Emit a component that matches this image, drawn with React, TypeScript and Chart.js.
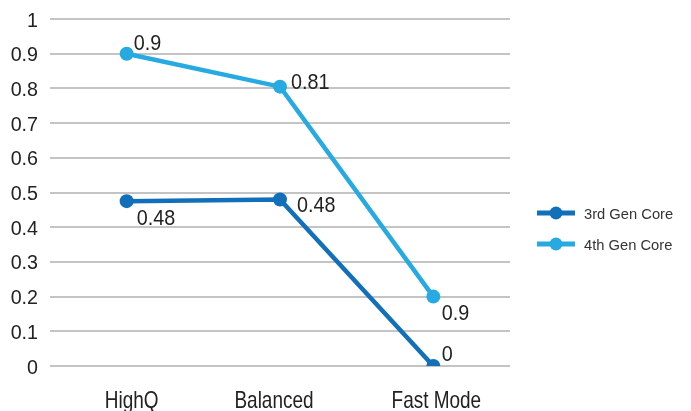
import React, { useEffect, useRef } from "react";
import { Chart, registerables } from "chart.js";

Chart.register(...registerables);

const categories = ["HighQ", "Balanced", "Fast Mode"];
const seriesNames = ["3rd Gen Core", "4th Gen Core"];
const gen3Values = [0.475, 0.48, 0];
const gen4Values = [0.9, 0.805, 0.2];
const gen3Labels = ["0.48", "0.48", "0"];
const gen4Labels = ["0.9", "0.81", "0.9"];
const yTicks = [0, 0.1, 0.2, 0.3, 0.4, 0.5, 0.6, 0.7, 0.8, 0.9, 1];

const COLORS = ["#1270ba", "#27a9e1"];
const FONT = "'Liberation Sans', Arial, sans-serif";
const TEXT = "#222";

// label placement offsets relative to the point (style): [dx, baseline dy]
const labelOffsets = [
  [[10, 23.5], [17, 13], [8.5, -5.5]],
  [[7, -4], [11, 2], [8.5, 23]],
];
// small horizontal nudges of category labels (style)
const categoryNudge = [5, -6, 3];

function drawText(ctx: CanvasRenderingContext2D, text: string, x: number, y: number, size: number, sx: number, align: CanvasTextAlign, color = TEXT) {
  ctx.save();
  ctx.translate(x, y);
  ctx.scale(sx, 1);
  ctx.font = `${size}px ${FONT}`;
  ctx.fillStyle = color;
  ctx.textAlign = align;
  ctx.textBaseline = "alphabetic";
  ctx.fillText(text, 0, 0);
  ctx.restore();
}

const axisTextPlugin = {
  id: "axisText",
  afterDraw(chart: any) {
    const ctx = chart.ctx;
    const ys = chart.scales.y;
    const xs = chart.scales.x;
    yTicks.forEach((v) => {
      const py = ys.getPixelForValue(v);
      drawText(ctx, String(v), 38, py + 7.5, 20.5, 0.96, "right");
    });
    categories.forEach((c, i) => {
      const px = xs.getPixelForValue(i);
      drawText(ctx, c, px + categoryNudge[i], 407.5, 24, 0.79, "center");
    });
  },
};

const dataLabelPlugin = {
  id: "dataLabels",
  afterDatasetsDraw(chart: any) {
    const ctx = chart.ctx;
    const allLabels = [gen3Labels, gen4Labels];
    chart.data.datasets.forEach((ds: any, di: number) => {
      const meta = chart.getDatasetMeta(di);
      meta.data.forEach((pt: any, i: number) => {
        const [dx, dy] = labelOffsets[di][i];
        drawText(ctx, allLabels[di][i], pt.x + dx, pt.y + dy, 21.5, 0.92, "left");
      });
    });
  },
};

const legendPlugin = {
  id: "customLegend",
  afterDraw(chart: any) {
    const ctx = chart.ctx;
    ctx.save();
    const x0 = 537;
    const ys = [213, 244];
    seriesNames.forEach((name, i) => {
      const y = ys[i];
      ctx.strokeStyle = COLORS[i];
      ctx.lineWidth = 5;
      ctx.beginPath();
      ctx.moveTo(x0, y);
      ctx.lineTo(x0 + 38, y);
      ctx.stroke();
      ctx.fillStyle = COLORS[i];
      ctx.beginPath();
      ctx.arc(x0 + 19, y, 6.5, 0, Math.PI * 2);
      ctx.fill();
      drawText(ctx, name, x0 + 47, y + 5.5, 15.5, 0.95, "left", "#333");
    });
    ctx.restore();
  },
};

export default function App() {
  const ref = useRef<HTMLCanvasElement>(null);
  useEffect(() => {
    if (!ref.current) return;
    const mk = (i: number, data: number[]) => ({
      label: seriesNames[i],
      data,
      borderColor: COLORS[i],
      backgroundColor: COLORS[i],
      borderWidth: 4.5,
      pointRadius: 7,
      pointHoverRadius: 7,
      pointBorderWidth: 0,
      tension: 0,
    });
    const chart = new Chart(ref.current, {
      type: "line",
      data: {
        labels: categories,
        datasets: [mk(0, gen3Values), mk(1, gen4Values)],
      },
      options: {
        animation: false,
        responsive: false,
        devicePixelRatio: 1,
        layout: { padding: { top: 19, right: 181, left: 0, bottom: 0 } },
        plugins: { legend: { display: false }, tooltip: { enabled: false } },
        scales: {
          x: {
            offset: true,
            grid: { display: false, drawTicks: false },
            border: { display: false },
            ticks: { display: false },
            afterFit: (s: any) => { s.height = 45; },
          },
          y: {
            min: 0,
            max: 1,
            afterBuildTicks: (s: any) => { s.ticks = yTicks.map((v) => ({ value: v })); },
            grid: { color: "#c4c4c4", lineWidth: 2, drawTicks: false },
            border: { display: false },
            ticks: { display: false },
            afterFit: (s: any) => { s.width = 50; },
          },
        },
      },
      plugins: [axisTextPlugin, dataLabelPlugin, legendPlugin],
    });
    return () => chart.destroy();
  }, []);
  return (
    <div style={{ position: "fixed", left: 0, top: 0, width: 691, height: 411, background: "#fff" }}>
      <canvas ref={ref} width={691} height={411} style={{ width: 691, height: 411 }} />
    </div>
  );
}
